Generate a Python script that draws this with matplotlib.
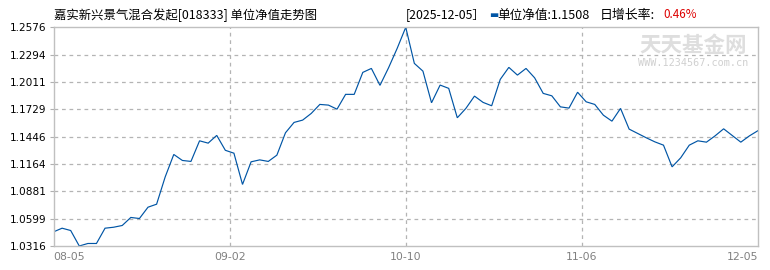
import matplotlib
matplotlib.use("Agg")
import matplotlib.pyplot as plt
import numpy as np

plt.rcParams['font.family'] = ['Noto Sans CJK SC', 'DejaVu Sans']

title = "嘉实新兴景气混合发起[018333] 单位净值走势图"
latest_date = "[2025-12-05］"
latest_nav = "1.1508"
daily_growth = "0.46%"

x_labels = ["08-05", "09-02", "10-10", "11-06", "12-05"]
y_ticks = [1.0316, 1.0599, 1.0881, 1.1164, 1.1446, 1.1729, 1.2011, 1.2294, 1.2576]

nav = [
    1.0462, 1.0500, 1.0476, 1.0316, 1.0342, 1.0342, 1.0500, 1.0510, 1.0528, 1.0611,
    1.0600, 1.0717, 1.0748, 1.1030, 1.1262, 1.1200, 1.1190, 1.1403, 1.1379, 1.1459,
    1.1305, 1.1275, 1.0952, 1.1186, 1.1206, 1.1190, 1.1255, 1.1486, 1.1593, 1.1617,
    1.1686, 1.1779, 1.1772, 1.1730, 1.1883, 1.1883, 1.2110, 1.2151, 1.1976, 1.2158,
    1.2358, 1.2576, 1.2203, 1.2123, 1.1796, 1.1979, 1.1945, 1.1641, 1.1738, 1.1865,
    1.1800, 1.1765, 1.2038, 1.2162, 1.2082, 1.2151, 1.2054, 1.1893, 1.1868, 1.1754,
    1.1741, 1.1905, 1.1806, 1.1779, 1.1668, 1.1606, 1.1738, 1.1524, 1.1479, 1.1434,
    1.1392, 1.1358, 1.1134, 1.1227, 1.1358, 1.1403, 1.1389, 1.1454, 1.1527, 1.1458,
    1.1389, 1.1454, 1.1508,
]

W, H = 770, 270
fig = plt.figure(figsize=(W / 100, H / 100), dpi=100)
L, R, T, B = 53.5, 758, 27.3, 246
ax = fig.add_axes([L / W, 1 - B / H, (R - L) / W, (B - T) / H])

x = np.arange(len(nav))
ax.plot(x, nav, color="#0055a5", lw=0.85, solid_joinstyle="miter")

n = len(nav) - 1
xt = np.linspace(0, n, len(x_labels))
ax.set_xlim(0, n)
ax.set_ylim(y_ticks[0], y_ticks[-1])
ax.set_xticks(xt)
ax.set_xticklabels(x_labels)
ax.set_yticks(y_ticks)
ax.set_yticklabels([f"{v:.4f}" for v in y_ticks])

grid_kw = dict(color="#b4b4b4", lw=0.9, dashes=(3, 3))
for v in y_ticks[1:-1]:
    ax.axhline(v, zorder=0, **grid_kw)
for v in xt[1:-1]:
    ax.axvline(v, zorder=0, **grid_kw)

for s in ax.spines.values():
    s.set_color("#c0c0c0")
    s.set_linewidth(1.0)

ax.tick_params(axis="y", length=3, width=0.8, color="#b0b0b0", labelsize=7.6,
               labelcolor="#000000", pad=2)
ax.tick_params(axis="x", length=0, labelsize=7.8, labelcolor="#808080", pad=4)
for lab in ax.get_yticklabels():
    lab.set_family("DejaVu Sans")
for lab, ha in zip(ax.get_xticklabels(), ["left", "center", "center", "center", "right"]):
    lab.set_family("DejaVu Sans")
    lab.set_ha(ha)

# header texts (figure pixel coordinates)
def fx(px):
    return px / W

def fy(py):
    return 1 - py / H

fig.text(fx(54), fy(15), title, fontsize=8.9, va="center", ha="left", color="#000000")
fig.text(fx(406), fy(15), latest_date, fontsize=8.9, va="center", ha="left", color="#000000")
fig.text(fx(489), fy(15), "▬", fontsize=7, va="center", ha="left", color="#0055a5",
         family="DejaVu Sans")
fig.text(fx(497), fy(15), "单位净值:" + latest_nav, fontsize=9.1, va="center", ha="left",
         color="#000000")
fig.text(fx(600), fy(15), "日增长率:", fontsize=9.3, va="center", ha="left", color="#000000")
fig.text(fx(663), fy(15), daily_growth, fontsize=8.4, va="center", ha="left", color="#dd0000")

# watermark
fig.text(fx(693), fy(46), "天天基金网", fontsize=15.5, va="center", ha="center",
         color="#dedede", weight="bold")
fig.text(fx(693), fy(63), "WWW.1234567.com.cn", fontsize=7.3, va="center", ha="center",
         color="#d0d0d0", family="DejaVu Sans Mono")

fig.savefig("out.png", dpi=100)
